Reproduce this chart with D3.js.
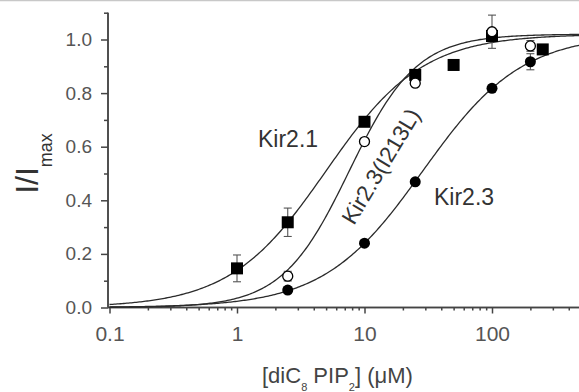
<!DOCTYPE html>
<html>
<head>
<meta charset="utf-8">
<script src="https://cdn.jsdelivr.net/npm/d3@7/dist/d3.min.js"></script>
<style>
  html, body { margin: 0; padding: 0; background: #fff; }
  svg { display: block; font-family: "Liberation Sans", Arial, sans-serif; }
</style>
</head>
<body>
<svg id="chart" width="579" height="392"></svg>
<script>
// ---- Data ----
const concKir21 = [1, 2.5, 10, 25, 50, 100, 250];
const valKir21  = [0.146, 0.318, 0.693, 0.868, 0.905, 1.013, 0.963];
const errKir21  = [0.05, 0.053, 0.012, 0.01, 0.012, 0.012, 0.015];

const concI213L = [2.5, 10, 25, 100, 200];
const valI213L  = [0.117, 0.619, 0.837, 1.029, 0.976];
const errI213L  = [0.018, 0.01, 0.01, 0.062, 0.02];

const concKir23 = [2.5, 10, 25, 100, 200];
const valKir23  = [0.065, 0.24, 0.469, 0.818, 0.917];
const errKir23  = [0.01, 0.01, 0.01, 0.012, 0.03];

// Hill fit parameters (EC50, Hill coefficient, max) for the three curves
const fitNames = ["Kir2.1", "Kir2.3(I213L)", "Kir2.3"];
const fitEC50  = [5.0, 7.6, 28.7];
const fitHill  = [1.15, 1.65, 1.12];
const fitMax   = [1.02, 1.02, 1.02];

const xTickValues = [0.1, 1, 10, 100];
const xTickLabels = ["0.1", "1", "10", "100"];
const yTickValues = [0, 0.2, 0.4, 0.6, 0.8, 1.0];
const yTickLabels = ["0.0", "0.2", "0.4", "0.6", "0.8", "1.0"];

// ---- Scales ----
const svg = d3.select("#chart");
const x = d3.scaleLog().domain([0.1, 500]).range([109.5, 109.5 + 127.5 * Math.log10(5000)]);
const y = d3.scaleLinear().domain([0, 1.1]).range([307.5, 307.5 - 1.1 * 268]);

// top border line
svg.append("line").attr("x1", 0).attr("x2", 579).attr("y1", 0.5).attr("y2", 0.5)
  .attr("stroke", "#c8c8c8").attr("stroke-width", 1.5);

const axisColor = "#444";
const labelColor = "#555";

// ---- Y axis ----
const yMinor = d3.range(1, 12).map(i => i / 10).filter(v => !yTickValues.some(t => Math.abs(t - v) < 1e-9));
const gyMinor = svg.append("g").attr("transform", "translate(108,0)")
  .call(d3.axisLeft(y).tickValues(yMinor).tickSize(4).tickFormat(""));
const gy = svg.append("g").attr("transform", "translate(108,0)")
  .call(d3.axisLeft(y).tickValues(yTickValues).tickSize(7).tickPadding(9)
    .tickFormat((d, i) => yTickLabels[i]));
[gy, gyMinor].forEach(g => {
  g.select(".domain").attr("stroke", axisColor).attr("stroke-width", 1.5);
  g.selectAll(".tick line").attr("stroke", axisColor).attr("stroke-width", 1.5);
});
gyMinor.select(".domain").attr("d", `M0,${y(1.1)}V${y(0)}`);
gy.select(".domain").attr("d", `M0,${y(1.1)}V${y(0)}`);
gy.selectAll(".tick text").attr("fill", labelColor).style("font-size", "19px")
  .style("font-family", "Liberation Sans, Arial, sans-serif");

// ---- X axis ----
const xMinor = [];
[0.1, 1, 10, 100].forEach(d => { for (let k = 2; k <= 9; k++) { const v = d * k; if (v <= 500) xMinor.push(v); } });
const gxMinor = svg.append("g").attr("transform", `translate(0,${y(0)})`)
  .call(d3.axisBottom(x).tickValues(xMinor).tickSize(3).tickFormat(""));
const gx = svg.append("g").attr("transform", `translate(0,${y(0)})`)
  .call(d3.axisBottom(x).tickValues(xTickValues).tickSize(6).tickPadding(13)
    .tickFormat((d, i) => xTickLabels[i]));
[gx, gxMinor].forEach(g => {
  g.select(".domain").attr("d", `M108,0H579`).attr("stroke", axisColor).attr("stroke-width", 1.5);
  g.selectAll(".tick line").attr("stroke", axisColor).attr("stroke-width", 1.5);
});
gx.selectAll(".tick text").attr("fill", labelColor).style("font-size", "21px")
  .style("font-family", "Liberation Sans, Arial, sans-serif");

// ---- Fitted curves ----
const curveX = d3.range(0, 301).map(i => 0.1 * Math.pow(5000, i / 300));
const line = d3.line().x(d => x(d[0])).y(d => y(d[1])).curve(d3.curveLinear);
fitNames.forEach((name, i) => {
  const pts = curveX.map(c => [c, fitMax[i] / (1 + Math.pow(fitEC50[i] / c, fitHill[i]))]);
  svg.append("path").attr("d", line(pts)).attr("fill", "none")
    .attr("stroke", "#2a2a2a").attr("stroke-width", 1.3);
});

// ---- Error bars ----
function errorBars(conc, val, err) {
  const g = svg.append("g").attr("stroke", "#555").attr("stroke-width", 1.1);
  conc.forEach((c, i) => {
    const cx = x(c), y1 = y(val[i] - err[i]), y2 = y(val[i] + err[i]);
    g.append("line").attr("x1", cx).attr("x2", cx).attr("y1", y1).attr("y2", y2);
    g.append("line").attr("x1", cx - 4).attr("x2", cx + 4).attr("y1", y1).attr("y2", y1);
    g.append("line").attr("x1", cx - 4).attr("x2", cx + 4).attr("y1", y2).attr("y2", y2);
  });
}
errorBars(concKir21, valKir21, errKir21);
errorBars(concI213L, valI213L, errI213L);
errorBars(concKir23, valKir23, errKir23);

// ---- Markers ----
svg.append("g").selectAll("rect").data(concKir21).join("rect")
  .attr("x", d => x(d) - 6).attr("y", (d, i) => y(valKir21[i]) - 6)
  .attr("width", 12).attr("height", 12).attr("fill", "#000");
svg.append("g").selectAll("circle").data(concI213L).join("circle")
  .attr("cx", d => x(d)).attr("cy", (d, i) => y(valI213L[i])).attr("r", 5)
  .attr("fill", "#fff").attr("stroke", "#000").attr("stroke-width", 1.3);
svg.append("g").selectAll("circle").data(concKir23).join("circle")
  .attr("cx", d => x(d)).attr("cy", (d, i) => y(valKir23[i])).attr("r", 5.5)
  .attr("fill", "#000");

// ---- Curve labels ----
svg.append("text").attr("x", 258).attr("y", 147).text(fitNames[0])
  .attr("fill", "#333").style("font-size", "23px");
svg.append("text").attr("x", 434).attr("y", 205).text(fitNames[2])
  .attr("fill", "#333").style("font-size", "23px");
svg.append("text").attr("transform", "translate(354,226) rotate(-59)").text(fitNames[1])
  .attr("fill", "#333").style("font-size", "22.5px");

// ---- Axis titles ----
const yt = svg.append("text").attr("transform", "translate(38,163.5) rotate(-90)")
  .attr("text-anchor", "middle").attr("fill", "#333");
yt.append("tspan").text("I/I").style("font-size", "32px");
yt.append("tspan").text("max").attr("dy", 14).style("font-size", "18px");

const xt = svg.append("text").attr("x", 262).attr("y", 382.5).attr("fill", "#444").style("font-size", "22px");
xt.append("tspan").text("[diC");
xt.append("tspan").text("8").attr("dy", 8).style("font-size", "11px");
xt.append("tspan").text(" PIP").attr("dy", -8);
xt.append("tspan").text("2").attr("dy", 8).style("font-size", "11px");
xt.append("tspan").text("] (\u03bcM)").attr("dy", -8);
</script>
</body>
</html>
